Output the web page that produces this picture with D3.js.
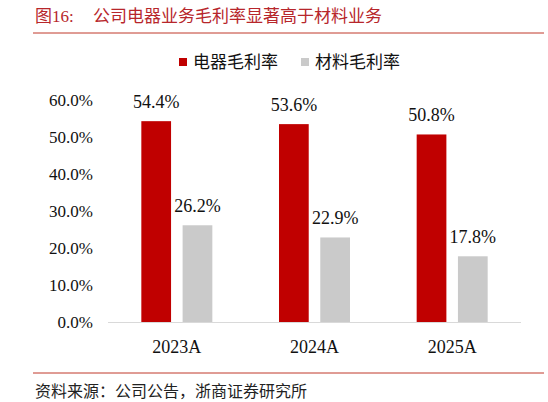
<!DOCTYPE html>
<html>
<head>
<meta charset="utf-8">
<style>
  body { margin: 0; background: #fff; }
  svg text { font-family: "Liberation Serif", "Times New Roman", "Noto Sans CJK SC", serif; }
</style>
</head>
<body>
<script src="https://d3js.org/d3.v7.min.js"></script>
<script>

  var categories = ["2023A", "2024A", "2025A"];
  var seriesNames = ["电器毛利率", "材料毛利率"];
  var dianqi = [54.4, 53.6, 50.8];
  var cailiao = [26.2, 22.9, 17.8];
  var yTicks = [0, 10, 20, 30, 40, 50, 60];

  var width = 548;
  var height = 402;
  var colors = ["#C00000", "#CACACA"];

  var svg = d3.select("body")
      .append("svg")
      .attr("width", width)
      .attr("height", height);

  // title and rules
  svg.append("text")
      .attr("x", 35)
      .attr("y", 22)
      .attr("fill", "#B7262B")
      .style("font-size", "17px")
      .text("图16:");

  svg.append("text")
      .attr("x", 93)
      .attr("y", 22)
      .attr("fill", "#B7262B")
      .style("font-size", "17px")
      .text("公司电器业务毛利率显著高于材料业务");

  svg.append("line")
      .attr("x1", 33).attr("x2", 544)
      .attr("y1", 33).attr("y2", 33)
      .attr("stroke", "#C0392B")
      .attr("stroke-width", 1);

  svg.append("line")
      .attr("x1", 33).attr("x2", 544)
      .attr("y1", 373).attr("y2", 373)
      .attr("stroke", "#C0392B")
      .attr("stroke-width", 1);

  svg.append("text")
      .attr("x", 35)
      .attr("y", 397)
      .attr("fill", "#222")
      .style("font-size", "16px")
      .text("资料来源：公司公告，浙商证券研究所");

  // scales
  var x = d3.scaleBand()
      .domain(categories)
      .range([108, 521]);

  var y = d3.scaleLinear()
      .domain([0, 60])
      .range([322, 100.5]);

  var inner = d3.scaleBand()
      .domain(seriesNames)
      .range([0, 71])
      .paddingInner(0.28);

  // y axis labels
  svg.selectAll(".ytick")
      .data(yTicks)
      .enter()
        .append("text")
        .attr("class", "ytick")
        .attr("x", 93)
        .attr("y", function (d) { return y(d); })
        .attr("dy", "0.35em")
        .attr("text-anchor", "end")
        .attr("fill", "#111")
        .style("font-size", "17px")
        .text(function (d) { return d.toFixed(1) + "%"; });

  // bars
  var rows = categories.map(function (c, i) {
    return [
      {cat: c, name: seriesNames[0], value: dianqi[i], color: colors[0]},
      {cat: c, name: seriesNames[1], value: cailiao[i], color: colors[1]}
    ];
  });

  var group = svg.selectAll(".grp")
      .data(rows)
      .enter()
        .append("g")
        .attr("class", "grp")
        .attr("transform", function (d) {
          return "translate(" + (x(d[0].cat) + (x.bandwidth() - 71) / 2) + ",0)";
        });

  group.selectAll("rect")
      .data(function (d) { return d; })
      .enter()
        .append("rect")
        .attr("x", function (d) { return inner(d.name); })
        .attr("width", inner.bandwidth())
        .attr("y", function (d) { return y(d.value); })
        .attr("height", function (d) { return y(0) - y(d.value); })
        .attr("fill", function (d) { return d.color; });

  group.selectAll(".val")
      .data(function (d) { return d; })
      .enter()
        .append("text")
        .attr("class", "val")
        .attr("x", function (d) { return inner(d.name) + inner.bandwidth() / 2; })
        .attr("y", function (d) { return y(d.value) - 13; })
        .attr("text-anchor", "middle")
        .attr("fill", "#111")
        .style("font-size", "18px")
        .text(function (d) { return d.value.toFixed(1) + "%"; });

  // x axis
  svg.append("line")
      .attr("x1", 108).attr("x2", 521)
      .attr("y1", y(0) + 0.5).attr("y2", y(0) + 0.5)
      .attr("stroke", "#D9D9D9")
      .attr("stroke-width", 1);

  svg.selectAll(".xlab")
      .data(categories)
      .enter()
        .append("text")
        .attr("class", "xlab")
        .attr("x", function (d) { return x(d) + x.bandwidth() / 2; })
        .attr("y", 353)
        .attr("text-anchor", "middle")
        .attr("fill", "#111")
        .style("font-size", "18px")
        .text(function (d) { return d; });

  // legend
  var legend = svg.selectAll(".leg")
      .data(seriesNames)
      .enter()
        .append("g")
        .attr("class", "leg")
        .attr("transform", function (d, i) {
          return "translate(" + (179 + i * 122) + ",58)";
        });

  legend.append("rect")
      .attr("width", 8)
      .attr("height", 8)
      .attr("fill", function (d, i) { return colors[i]; });

  legend.append("text")
      .attr("x", 14)
      .attr("y", 4)
      .attr("dy", "0.35em")
      .attr("fill", "#111")
      .style("font-size", "17px")
      .text(function (d) { return d; });

</script>
</body>
</html>
